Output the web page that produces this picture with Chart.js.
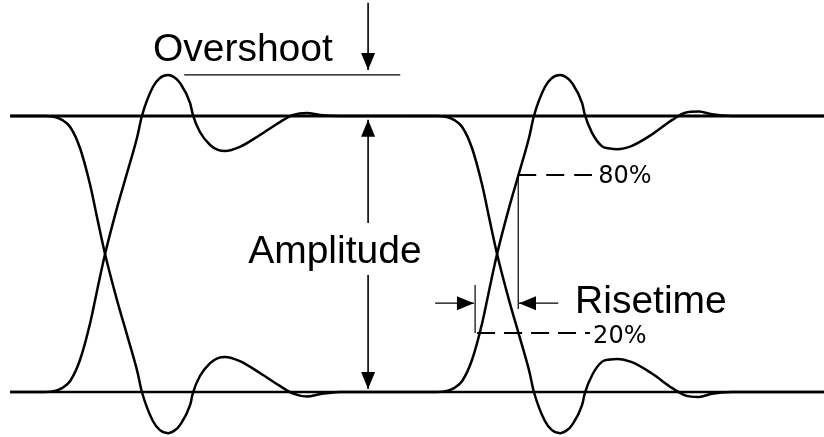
<!DOCTYPE html>
<html>
<head>
<meta charset="utf-8">
<script src="https://cdn.jsdelivr.net/npm/chart.js@4.4.1/dist/chart.umd.min.js"></script>
<style>
  body { margin: 0; background: #fff; }
  canvas { display: block; }
</style>
</head>
<body>
<canvas id="eye" width="824" height="437"></canvas>
<script>
// time in ps (crossing points at 0 and 1000), level normalised: 0 = low, 1 = high
const edgeTime1 = [-242, -153, -128, -110, -89, -64, -38, -20, 0, 31, 56, 82, 94, 122, 140, 161, 179, 191, 217, 224, 242, 268, 288, 306, 344, 395, 446, 480, 515, 548, 599, 753];
const riseLevel1 = [0, 0, 0.004, 0.014, 0.040, 0.116, 0.250, 0.370, 0.500, 0.670, 0.793, 0.924, 1.000, 1.105, 1.138, 1.149, 1.138, 1.120, 1.047, 1.004, 0.942, 0.895, 0.877, 0.873, 0.888, 0.931, 0.978, 1.004, 1.011, 1.004, 1.000, 1.000];
const fallLevel1 = [1, 1, 0.996, 0.986, 0.960, 0.884, 0.750, 0.630, 0.500, 0.330, 0.207, 0.076, 0.000, -0.105, -0.138, -0.149, -0.138, -0.120, -0.047, -0.004, 0.058, 0.105, 0.123, 0.127, 0.112, 0.069, 0.022, -0.006, -0.016, -0.008, 0, 0];

const edgeTime2 = [753, 847, 872, 890, 911, 936, 962, 980, 1000, 1031, 1056, 1082, 1094, 1122, 1140, 1161, 1179, 1191, 1217, 1224, 1242, 1268, 1288, 1306, 1344, 1395, 1446, 1480, 1515, 1548, 1599, 1834];
const riseLevel2 = [0, 0, 0.004, 0.014, 0.040, 0.116, 0.250, 0.370, 0.500, 0.670, 0.793, 0.924, 1.000, 1.105, 1.138, 1.149, 1.138, 1.120, 1.047, 1.004, 0.940, 0.890, 0.882, 0.880, 0.892, 0.933, 0.985, 1.012, 1.016, 1.006, 1.000, 1.000];
const fallLevel2 = [1, 1, 0.996, 0.986, 0.960, 0.884, 0.750, 0.630, 0.500, 0.330, 0.207, 0.076, 0.000, -0.105, -0.138, -0.149, -0.138, -0.120, -0.047, -0.004, 0.060, 0.110, 0.118, 0.120, 0.108, 0.067, 0.015, -0.012, -0.018, -0.006, 0, 0];

// reference levels and markers
const levelSpan = [-242, 1834];
const overshootLevel = 1.149;
const level80 = 0.786;
const level20 = 0.214;
const markTime = 671;

const pts = (xs, ys) => xs.map((t, i) => ({ x: t, y: ys[i] }));

const curve = (data) => ({
    data: data,
    borderColor: '#000',
    borderWidth: 2.5,
    cubicInterpolationMode: 'monotone',
    pointRadius: 0
});

const seg = (data, width, extra) => Object.assign({
    data: data,
    borderColor: '#000',
    borderWidth: width,
    tension: 0,
    pointRadius: 0
}, extra || {});

const labels = [
    { text: 'Overshoot', t: 122, v: 1.199, font: '39px "Liberation Sans", Arial, sans-serif' },
    { text: 'Amplitude', t: 365, v: 0.467, font: '39px "Liberation Sans", Arial, sans-serif' },
    { text: 'Risetime', t: 1199, v: 0.286, font: '39px "Liberation Sans", Arial, sans-serif' },
    { text: '80%', t: 1258, v: 0.757, font: '24px "DejaVu Sans", sans-serif' },
    { text: '20%', t: 1245, v: 0.178, font: '24px "DejaVu Sans", sans-serif' }
];

// filled arrow head on the last point of datasets marked with arrow: true
const arrowHeads = {
    id: 'arrowHeads',
    afterDatasetsDraw(chart) {
        const ctx = chart.ctx;
        chart.data.datasets.forEach((ds, i) => {
            if (!ds.arrow) return;
            const p = chart.getDatasetMeta(i).data;
            const tip = p[p.length - 1], from = p[p.length - 2];
            const a = Math.atan2(tip.y - from.y, tip.x - from.x);
            ctx.save();
            ctx.translate(tip.x, tip.y);
            ctx.rotate(a);
            ctx.beginPath();
            ctx.moveTo(0, 0);
            ctx.lineTo(-17, -7);
            ctx.lineTo(-17, 7);
            ctx.closePath();
            ctx.fillStyle = '#000';
            ctx.fill();
            ctx.restore();
        });
    }
};

const labelText = {
    id: 'labelText',
    afterDraw(chart) {
        const { ctx, scales: { x, y } } = chart;
        ctx.save();
        ctx.fillStyle = '#000';
        ctx.textAlign = 'left';
        ctx.textBaseline = 'alphabetic';
        labels.forEach(l => {
            ctx.font = l.font;
            ctx.fillText(l.text, x.getPixelForValue(l.t), y.getPixelForValue(l.v));
        });
        ctx.restore();
    }
};

const datasets = [
    seg([{ x: levelSpan[0], y: 1 }, { x: levelSpan[1], y: 1 }], 3),
    seg([{ x: levelSpan[0], y: 0 }, { x: levelSpan[1], y: 0 }], 2.4),
    curve(pts(edgeTime1, riseLevel1)),
    curve(pts(edgeTime1, fallLevel1)),
    curve(pts(edgeTime2, riseLevel2)),
    curve(pts(edgeTime2, fallLevel2)),
    // overshoot marker
    seg([{ x: 202, y: overshootLevel }, { x: 753, y: overshootLevel }], 1.2),
    seg([{ x: markTime, y: 1.41 }, { x: markTime, y: 1.167 }], 1.6, { arrow: true }),
    // amplitude arrows
    seg([{ x: markTime, y: 0.612 }, { x: markTime, y: 0.986 }], 1.6, { arrow: true }),
    seg([{ x: markTime, y: 0.424 }, { x: markTime, y: 0.011 }], 1.6, { arrow: true }),
    // risetime markers
    seg([{ x: 1054, y: level80 }, { x: 1242, y: level80 }], 2, { borderDash: [18, 10] }),
    seg([{ x: 949, y: level20 }, { x: 1237, y: level20 }], 2, { borderDash: [18, 9] }),
    seg([{ x: 1054, y: level80 }, { x: 1054, y: 0.301 }], 1.2),
    seg([{ x: 944, y: 0.388 }, { x: 944, y: level20 }], 1.2),
    seg([{ x: 842, y: 0.322 }, { x: 941, y: 0.322 }], 1.2, { arrow: true }),
    seg([{ x: 1156, y: 0.322 }, { x: 1056, y: 0.322 }], 1.2, { arrow: true })
];

new Chart(document.getElementById('eye'), {
    type: 'line',
    data: { datasets: datasets },
    options: {
        responsive: false,
        animation: false,
        events: [],
        layout: { padding: 0 },
        plugins: { legend: { display: false }, tooltip: { enabled: false } },
        scales: {
            x: { type: 'linear', display: false, min: -268, max: 1834 },
            y: { type: 'linear', display: false, min: -0.163, max: 1.4203 }
        }
    },
    plugins: [arrowHeads, labelText]
});
</script>
</body>
</html>
